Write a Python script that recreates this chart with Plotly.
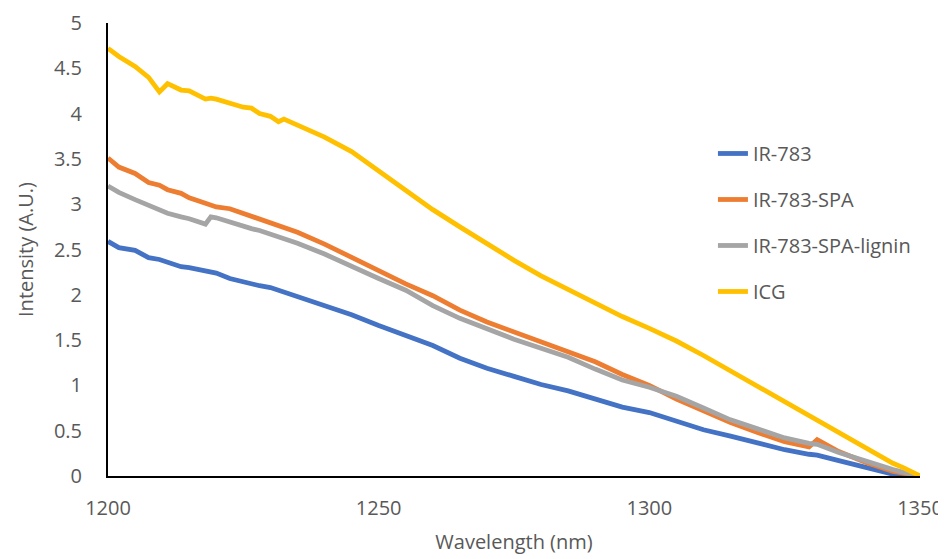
import plotly.graph_objects as go

wavelength = [1200, 1202, 1205, 1207.5, 1209.5, 1211, 1213.5, 1215, 1218, 1219, 1220, 1222.5,
              1225, 1226.5, 1228, 1230, 1231.5, 1232.5, 1235, 1240, 1245, 1250, 1255, 1260,
              1265, 1270, 1275, 1280, 1285, 1290, 1295, 1300, 1305, 1310, 1315, 1320, 1325,
              1329.5, 1331, 1335, 1340, 1345, 1347, 1350]

ir783 = [2.59, 2.52, 2.49, 2.41, 2.39, 2.36, 2.31, 2.30, 2.26, 2.25, 2.24, 2.18,
         2.14, 2.12, 2.10, 2.08, 2.05, 2.02, 1.97, 1.87, 1.78, 1.66, 1.55, 1.44,
         1.30, 1.19, 1.10, 1.01, 0.94, 0.85, 0.76, 0.70, 0.60, 0.51, 0.44, 0.36, 0.29,
         0.24, 0.23, 0.17, 0.09, 0.02, 0.0, 0.0]

ir783_spa = [3.51, 3.41, 3.34, 3.24, 3.21, 3.16, 3.12, 3.07, 3.01, 2.99, 2.97, 2.95,
             2.90, 2.87, 2.84, 2.80, 2.76, 2.74, 2.69, 2.56, 2.41, 2.27, 2.12, 1.99,
             1.83, 1.70, 1.59, 1.48, 1.38, 1.26, 1.12, 1.00, 0.85, 0.72, 0.59, 0.48, 0.38,
             0.32, 0.40, 0.27, 0.15, 0.05, 0.03, 0.0]

ir783_spa_lignin = [3.20, 3.13, 3.05, 2.99, 2.94, 2.90, 2.86, 2.84, 2.78, 2.86, 2.85, 2.80,
                    2.75, 2.73, 2.71, 2.67, 2.64, 2.61, 2.57, 2.45, 2.31, 2.18, 2.05, 1.88,
                    1.74, 1.62, 1.51, 1.41, 1.31, 1.18, 1.06, 0.98, 0.88, 0.75, 0.62, 0.52, 0.42,
                    0.36, 0.35, 0.26, 0.16, 0.07, 0.04, 0.0]

icg = [4.72, 4.63, 4.52, 4.40, 4.24, 4.33, 4.26, 4.25, 4.16, 4.17, 4.16, 4.11,
       4.07, 4.06, 4.00, 3.97, 3.91, 3.94, 3.87, 3.74, 3.58, 3.37, 3.15, 2.94,
       2.75, 2.56, 2.38, 2.21, 2.06, 1.91, 1.76, 1.63, 1.49, 1.33, 1.16, 0.99, 0.82,
       0.67, 0.62, 0.48, 0.30, 0.14, 0.09, 0.0]

series_names = ["IR-783", "IR-783-SPA", "IR-783-SPA-lignin", "ICG"]
series_values = [ir783, ir783_spa, ir783_spa_lignin, icg]
colors = ["#4472C4", "#ED7D31", "#A5A5A5", "#FFC000"]

x_ticks = [1200, 1250, 1300, 1350]
y_ticks = [0, 0.5, 1, 1.5, 2, 2.5, 3, 3.5, 4, 4.5, 5]
y_tick_labels = ["0", "0.5", "1", "1.5", "2", "2.5", "3", "3.5", "4", "4.5", "5"]

fig = go.Figure()
for i, (name, vals, col) in enumerate(zip(series_names, series_values, colors)):
    fig.add_trace(go.Scatter(x=wavelength, y=vals, mode="lines", name=name,
                             legendgroup=f"g{i}",
                             line=dict(color=col, width=4.8)))

font_family = "Open Sans, Liberation Sans, sans-serif"
fig.update_layout(
    width=938, height=551,
    margin=dict(l=100, r=26, t=15, b=83),
    paper_bgcolor="white", plot_bgcolor="white",
    font=dict(family=font_family, size=20, color="#595959"),
    showlegend=True,
    legend=dict(x=0.745, y=0.755, xanchor="left", yanchor="top",
                bgcolor="rgba(0,0,0,0)", font=dict(size=20, color="#595959"),
                tracegroupgap=17, traceorder="grouped"),
    xaxis=dict(range=[1200, 1350], tickvals=x_ticks, showgrid=False, zeroline=False,
               showline=True, linecolor="black", linewidth=2, ticks="",
               ticklabelstandoff=13, automargin=False,
               tickfont=dict(size=20, color="#595959"),
               title=dict(text="Wavelength (nm)",
                          font=dict(size=20, color="#595959"))),
    yaxis=dict(range=[0, 5], tickvals=y_ticks, ticktext=y_tick_labels, showgrid=False,
               zeroline=False, showline=True, linecolor="black", linewidth=2, ticks="",
               ticklabelstandoff=20, automargin=False,
               tickfont=dict(size=20, color="#595959"),
               title=dict(text="Intensity (A.U.)",
                          font=dict(size=20, color="#595959"))),
)

fig.write_html("out.html")
